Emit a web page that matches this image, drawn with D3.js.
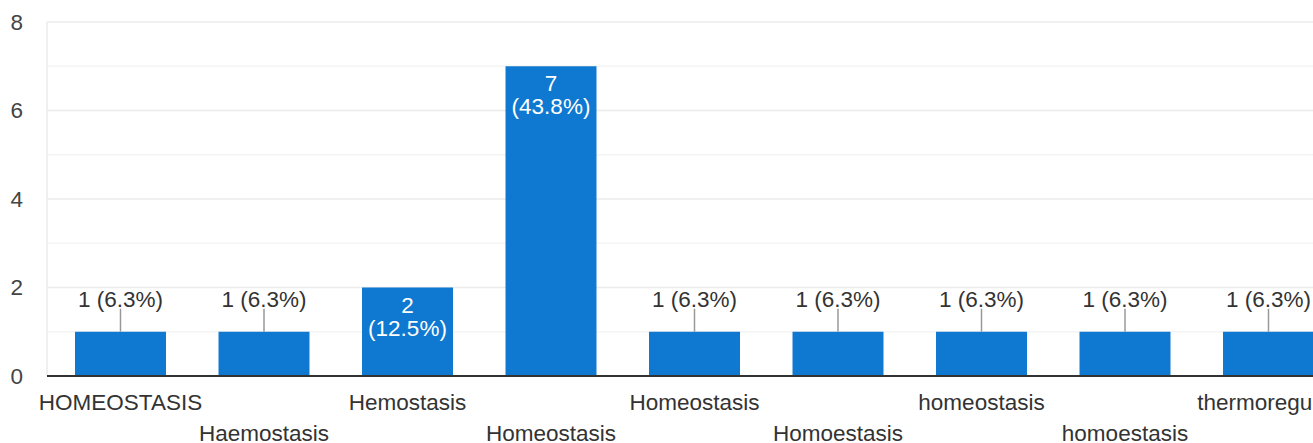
<!DOCTYPE html>
<html>
<head>
<meta charset="utf-8">
<script src="https://cdn.jsdelivr.net/npm/d3@7"></script>
<style>
html,body{margin:0;padding:0;background:#fff;overflow:hidden;}
svg{display:block;font-family:"Liberation Sans",Arial,sans-serif;}
</style>
</head>
<body>
<svg id="chart" width="1313" height="443"></svg>
<script>
const categories = ["HOMEOSTASIS","Haemostasis","Hemostasis","Homeostasis","Homeostasis ","Homoestasis","homeostasis","homoestasis","thermoregulation"];
const values = [1,1,2,7,1,1,1,1,1];
const percents = ["6.3%","6.3%","12.5%","43.8%","6.3%","6.3%","6.3%","6.3%","6.3%"];
const yTicks = [0,2,4,6,8];
const yMinor = [1,3,5,7];

const FS = 22.5;
const svg = d3.select("#chart");
const left = 47, step = 143.5;
const x = d3.scaleBand().domain(d3.range(categories.length))
  .range([left + 1.75, left + 1.75 + step * categories.length])
  .paddingInner(0.366).paddingOuter(0.183);
const y = d3.scaleLinear().domain([0, 8]).range([376, 22]);

// minor grid
svg.append("g").selectAll("line").data(yMinor).join("line")
  .attr("x1", left).attr("x2", 1313)
  .attr("y1", d => y(d)).attr("y2", d => y(d))
  .attr("stroke", "#f4f4f4").attr("stroke-width", 1.5);
// major grid
svg.append("g").selectAll("line").data(yTicks.filter(d => d > 0)).join("line")
  .attr("x1", left).attr("x2", 1313)
  .attr("y1", d => y(d)).attr("y2", d => y(d))
  .attr("stroke", "#ebebeb").attr("stroke-width", 1.5);
// left vertical grid line
svg.append("line").attr("x1", left).attr("x2", left)
  .attr("y1", y(8)).attr("y2", y(0))
  .attr("stroke", "#ebebeb").attr("stroke-width", 1.5);

// y axis labels
const yAxis = d3.axisLeft(y).tickValues(yTicks).tickSize(0).tickPadding(0);
const ya = svg.append("g").attr("transform", "translate(23,0)").call(yAxis);
ya.select(".domain").remove();
ya.selectAll("text").attr("font-size", FS).attr("fill", "#444")
  .attr("font-family", "Liberation Sans, Arial, sans-serif");

// bars
const bw = x.bandwidth();
svg.append("g").selectAll("rect").data(values).join("rect")
  .attr("x", (d, i) => x(i)).attr("width", bw)
  .attr("y", d => y(d)).attr("height", d => y(0) - y(d))
  .attr("fill", "#0f78d0");

// baseline
svg.append("line").attr("x1", left).attr("x2", 1313)
  .attr("y1", y(0)).attr("y2", y(0))
  .attr("stroke", "#333").attr("stroke-width", 2);

// data labels
const lab = svg.append("g").attr("font-size", FS).attr("text-anchor", "middle");
values.forEach((v, i) => {
  const cx = x(i) + bw / 2;
  const top = y(v);
  if (v >= 2) {
    lab.append("text").attr("x", cx).attr("y", top + 25).attr("fill", "#fff").text(v);
    lab.append("text").attr("x", cx).attr("y", top + 48).attr("fill", "#fff").text("(" + percents[i] + ")");
  } else {
    lab.append("line").attr("x1", cx).attr("x2", cx).attr("y1", top).attr("y2", top - 23)
      .attr("stroke", "#999").attr("stroke-width", 1.5);
    lab.append("text").attr("x", cx).attr("y", top - 25).attr("fill", "#333")
      .text(v + " (" + percents[i] + ")");
  }
});

// x labels (staggered); long labels truncated with an ellipsis like the source chart
const fmt = i => {
  const s = categories[i].trim();
  return s.length > 12 ? s.slice(0, 11) + "…" : s;
};
const xAxis = d3.axisBottom(x).tickFormat(fmt).tickSize(0).tickPadding(0);
const xa = svg.append("g").call(xAxis);
xa.select(".domain").remove();
xa.selectAll("text")
  .attr("font-size", FS).attr("fill", "#333")
  .attr("font-family", "Liberation Sans, Arial, sans-serif")
  .attr("dy", null)
  .attr("y", (d, i) => i % 2 === 0 ? 410 : 441);
</script>
</body>
</html>
